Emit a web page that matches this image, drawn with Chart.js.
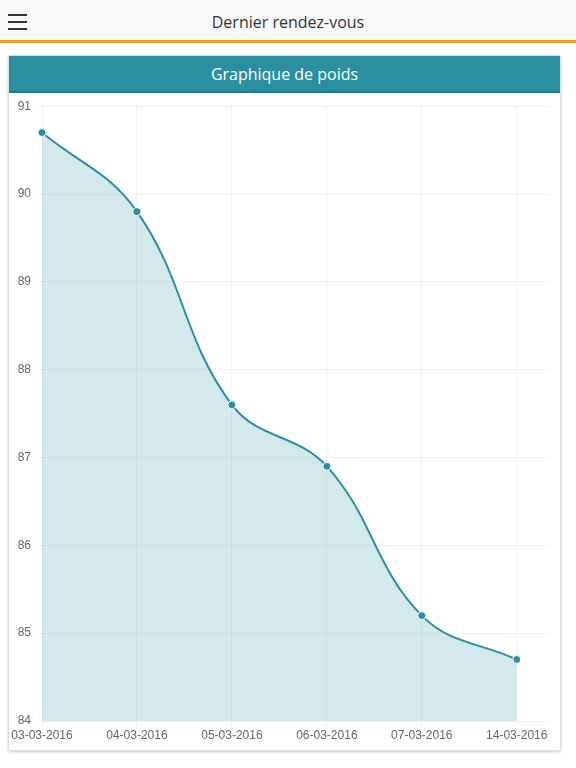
<!DOCTYPE html>
<html>
<head>
<meta charset="utf-8">
<script src="https://cdn.jsdelivr.net/npm/chart.js@4"></script>
<style>
  body { margin: 0; background: #fff; font-family: "Open Sans", sans-serif; }
  .topbar { position: absolute; left: 0; top: 0; width: 576px; height: 40px; background: #f8f8f8; border-bottom: 3px solid #f39a2b; }
  .burger { position: absolute; left: 8px; top: 14px; width: 19px; }
  .burger span { display: block; height: 2px; background: #333; margin-bottom: 5px; }
  .topbar h1 { margin: 0; font-weight: normal; font-size: 16px; color: #333; text-align: center; line-height: 45px; }
  .card { position: absolute; left: 8px; top: 55px; width: 551px; height: 694px; border: 1px solid #ddd; border-radius: 2px; box-shadow: 0 1px 3px rgba(0,0,0,0.2); background: #fff; }
  .card-title { height: 35px; background: #2a8fa0; border-bottom: 2px solid #1f7987; color: #fff; text-align: center; font-size: 16px; line-height: 37px; }
  .chart-box { position: relative; width: 550px; height: 656px; }
</style>
</head>
<body>
<div class="topbar">
  <div class="burger"><span></span><span></span><span></span></div>
  <h1>Dernier rendez-vous</h1>
</div>
<div class="card">
  <div class="card-title">Graphique de poids</div>
  <div class="chart-box"><canvas id="poids"></canvas></div>
</div>
<script>
'use strict';

// DATA
let dates = ['03-03-2016', '04-03-2016', '05-03-2016', '06-03-2016', '07-03-2016', '14-03-2016'];
let poids = [90.7, 89.8, 87.6, 86.9, 85.2, 84.7];
let yTicks = [84, 85, 86, 87, 88, 89, 90, 91];

let teal = '#2a8fa0';

let points = [];
for (let i = 0; i < poids.length; i++) {
  points.push({ x: i, y: poids[i] });
}

const ctx = document.getElementById('poids');
const poidsChart = new Chart(ctx, {
  type: 'line',
  data: {
    datasets: [{
      label: 'Poids',
      data: points,
      borderColor: teal,
      borderWidth: 2,
      backgroundColor: 'rgba(42,143,160,0.2)',
      fill: 'start',
      tension: 0.4,
      pointRadius: 4,
      pointBackgroundColor: teal,
      pointBorderColor: '#fff',
      pointBorderWidth: 1,
      clip: false
    }]
  },
  options: {
    responsive: true,
    maintainAspectRatio: false,
    animation: false,
    layout: { padding: { left: 0, right: 9, top: 10, bottom: 0 } },
    plugins: {
      legend: { display: false },
      tooltip: { enabled: false }
    },
    scales: {
      x: {
        type: 'linear',
        min: 0,
        max: 5.35,
        afterBuildTicks: function(scale) {
          scale.ticks = dates.map(function(d, i) { return { value: i }; });
        },
        afterFit: function(scale) { scale.height = 28; },
        grid: { color: 'rgba(0,0,0,0.05)', tickLength: 5 },
        border: { display: false },
        ticks: {
          autoSkip: false,
          maxRotation: 0,
          padding: 2,
          color: '#666',
          font: { family: '"Liberation Sans", Arial, sans-serif', size: 12 },
          callback: function(value) { return dates[value]; }
        }
      },
      y: {
        min: yTicks[0],
        max: yTicks[yTicks.length - 1],
        afterBuildTicks: function(scale) {
          scale.ticks = yTicks.map(function(v) { return { value: v }; });
        },
        afterFit: function(scale) { scale.width = 33; },
        grid: { color: 'rgba(0,0,0,0.05)', tickLength: 5 },
        border: { display: false },
        ticks: {
          padding: 6,
          color: '#666',
          font: { family: '"Liberation Sans", Arial, sans-serif', size: 12 }
        }
      }
    }
  }
});
</script>
</body>
</html>
